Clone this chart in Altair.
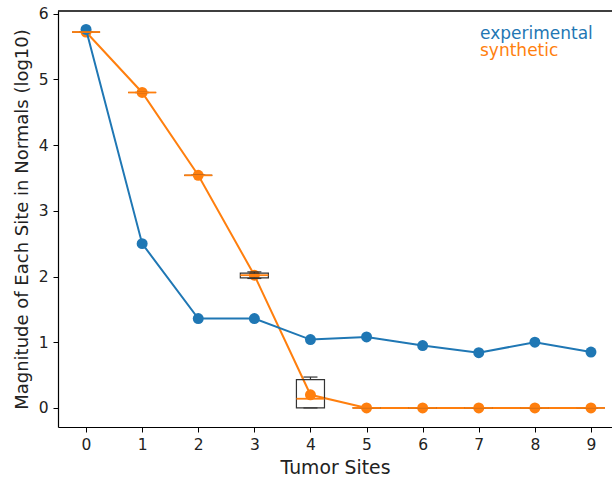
import altair as alt
import pandas as pd

sites = list(range(10))
experimental = [5.76, 2.50, 1.36, 1.36, 1.04, 1.08, 0.95, 0.84, 1.00, 0.85]
synthetic = [5.72, 4.80, 3.54, 2.02, 0.20, 0.0, 0.0, 0.0, 0.0, 0.0]

# box statistics of the synthetic runs per site
box_med = [5.72, 4.80, 3.54, 2.02, 0.14, 0.0, 0.0, 0.0, 0.0, 0.0]
box_q1 = [5.72, 4.80, 3.54, 1.98, 0.0, 0.0, 0.0, 0.0, 0.0, 0.0]
box_q3 = [5.72, 4.80, 3.54, 2.05, 0.43, 0.0, 0.0, 0.0, 0.0, 0.0]
box_lo = [5.72, 4.80, 3.54, 1.97, 0.0, 0.0, 0.0, 0.0, 0.0, 0.0]
box_hi = [5.72, 4.80, 3.54, 2.07, 0.47, 0.0, 0.0, 0.0, 0.0, 0.0]

series_names = ["experimental", "synthetic"]
colors = ["#1f77b4", "#ff7f0e"]

FONT = "DejaVu Sans"

lines = pd.DataFrame({
    "site": sites * 2,
    "value": experimental + synthetic,
    "series": ["experimental"] * 10 + ["synthetic"] * 10,
})
boxes = pd.DataFrame({
    "site": sites, "med": box_med, "q1": box_q1, "q3": box_q3,
    "lo": box_lo, "hi": box_hi,
})

xscale = alt.Scale(domain=[-0.5, 9.375], nice=False, zero=False)
yscale = alt.Scale(domain=[-0.29, 6.04], nice=False, zero=False)
cscale = alt.Scale(domain=series_names, range=colors)

xaxis = alt.Axis(
    title="Tumor Sites", values=sites, format="d", grid=False,
    domainColor="black", domainWidth=1.2, tickColor="black", tickSize=5,
    tickWidth=1, labelFont=FONT, labelFontSize=15.5, labelColor="#222",
    labelPadding=5, titleFont=FONT, titleFontSize=18.8, titleFontWeight="normal",
    titleColor="#222", titlePadding=6, labelFlush=False,
)
yaxis = alt.Axis(
    title="Magnitude of Each Site in Normals (log10)", values=[0, 1, 2, 3, 4, 5, 6],
    format="d", grid=False, domainColor="black", domainWidth=1.2,
    tickColor="black", tickSize=5, tickWidth=1, labelFont=FONT,
    labelFontSize=15.5, labelColor="#222", labelPadding=5, titleFont=FONT,
    titleFontSize=18, titleFontWeight="normal", titleColor="#222",
    titlePadding=7, labelFlush=False,
)

base = alt.Chart(lines)

line_layer = base.mark_line(strokeWidth=2).encode(
    x=alt.X("site:Q", scale=xscale, axis=xaxis),
    y=alt.Y("value:Q", scale=yscale, axis=yaxis),
    color=alt.Color("series:N", scale=cscale, legend=None),
    detail="series:N",
    order="site:Q",
)
point_layer = base.mark_circle(size=120, opacity=1).encode(
    x=alt.X("site:Q", scale=xscale),
    y=alt.Y("value:Q", scale=yscale),
    color=alt.Color("series:N", scale=cscale, legend=None),
)

bbase = alt.Chart(boxes).transform_calculate(
    xl="datum.site - 0.25", xr="datum.site + 0.25",
    cl="datum.site - 0.125", cr="datum.site + 0.125",
)
box_rect = bbase.mark_rect(fill=None, stroke="#333", strokeWidth=1.2).encode(
    x=alt.X("xl:Q", scale=xscale), x2="xr:Q",
    y=alt.Y("q1:Q", scale=yscale), y2="q3:Q",
)
whisk_hi = bbase.mark_rule(color="#333", strokeWidth=1.2).encode(
    x=alt.X("site:Q", scale=xscale), y=alt.Y("q3:Q", scale=yscale), y2="hi:Q",
)
whisk_lo = bbase.mark_rule(color="#333", strokeWidth=1.2).encode(
    x=alt.X("site:Q", scale=xscale), y=alt.Y("lo:Q", scale=yscale), y2="q1:Q",
)
cap_hi = bbase.mark_rule(color="#333", strokeWidth=1.2).encode(
    x=alt.X("cl:Q", scale=xscale), x2="cr:Q", y=alt.Y("hi:Q", scale=yscale),
)
cap_lo = bbase.mark_rule(color="#333", strokeWidth=1.2).encode(
    x=alt.X("cl:Q", scale=xscale), x2="cr:Q", y=alt.Y("lo:Q", scale=yscale),
)
median = bbase.mark_rule(color="#ff7f0e", strokeWidth=1.8).encode(
    x=alt.X("xl:Q", scale=xscale), x2="xr:Q", y=alt.Y("med:Q", scale=yscale),
)

legend_df = pd.DataFrame({"series": series_names, "row": [0, 1]})
legend_exp = alt.Chart(legend_df).transform_filter("datum.row == 0").mark_text(
    align="left", baseline="alphabetic", font=FONT, fontSize=17,
).encode(
    x=alt.value(422), y=alt.value(28), text="series:N",
    color=alt.Color("series:N", scale=cscale, legend=None),
)
legend_syn = alt.Chart(legend_df).transform_filter("datum.row == 1").mark_text(
    align="left", baseline="alphabetic", font=FONT, fontSize=17,
).encode(
    x=alt.value(422), y=alt.value(45), text="series:N",
    color=alt.Color("series:N", scale=cscale, legend=None),
)

top_spine = alt.Chart(legend_df).mark_rule(color="black", strokeWidth=1.2).encode(
    x=alt.value(0), x2=alt.value(560), y=alt.value(0),
)

chart = alt.layer(
    line_layer.transform_filter("datum.series == 'synthetic'"),
    point_layer.transform_filter("datum.series == 'synthetic'"),
    line_layer.transform_filter("datum.series == 'experimental'"),
    point_layer.transform_filter("datum.series == 'experimental'"),
    box_rect, whisk_hi, whisk_lo, cap_hi, cap_lo, median,
    legend_exp, legend_syn, top_spine,
).properties(
    width=554, height=416,
    autosize=alt.AutoSizeParams(type="none"),
    padding={"left": 58, "top": 11, "right": 0, "bottom": 51},
    background="white",
).configure_view(stroke=None)

chart.save("out.html", embed_options={"renderer": "svg", "actions": False})
